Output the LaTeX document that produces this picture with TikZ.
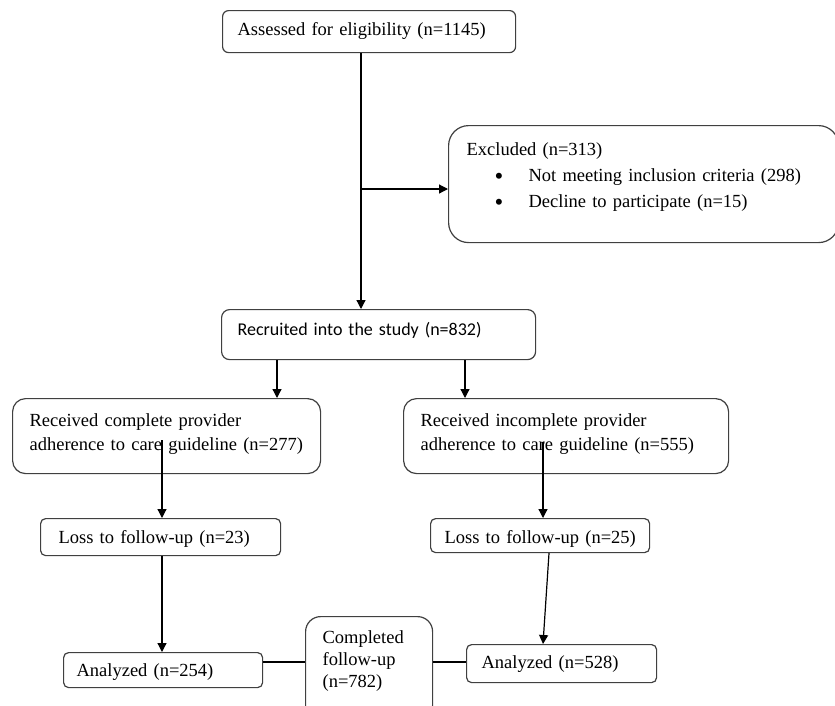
\documentclass[tikz,border=0pt]{standalone}
\usepackage{fontspec}
\setmainfont{Liberation Serif}
\newfontfamily\calibri{Carlito}
\usetikzlibrary{arrows.meta}
\tikzset{>={Triangle[width=9pt,length=9pt]}}
\tikzset{
  box/.style={draw=black!75, line width=1.2pt, anchor=north west, align=left,
    inner ysep=0pt, font=\fontsize{18.5}{24}\selectfont},
  link/.style={line width=1.2pt}
}
\newcommand{\bulletline}[1]{\makebox[62pt][l]{\hspace{28pt}\raisebox{-2.5pt}{\fontsize{25}{24}\selectfont\textbullet}}#1}

\begin{document}
\begin{tikzpicture}[x=1pt, y=-1pt]
    \clip (0,0) rectangle (835,705);

    \node[box, rounded corners=6pt, inner xsep=15pt, text width=263pt,
      text height=25pt, text depth=17pt] (assess) at (222,10)
      {Assessed for eligibility (n=1145)};
    \node[box, rounded corners=20pt, inner xsep=18pt, text width=354pt,
      text height=30pt, text depth=87pt,
      font=\fontsize{18.5}{26}\selectfont] (excl) at (448,125)
      {Excluded (n=313)\\
       \bulletline{Not meeting inclusion criteria (298)}\\
       \bulletline{Decline to participate (n=15)}};
    \node[box, rounded corners=8pt, inner xsep=16pt, text width=282pt,
      text height=26pt, text depth=24pt,
      font=\calibri\fontsize{18}{24}\selectfont] (recruit) at (221,309)
      {Recruited into the study (n=832)};

    \node[box, rounded corners=13pt, inner xsep=17pt, text width=274pt,
      text height=28pt, text depth=47pt] (cmpl) at (12,398)
      {Received complete provider\\ adherence to care guideline (n=277)};
    \node[box, rounded corners=13pt, inner xsep=17pt, text width=291pt,
      text height=28pt, text depth=47pt] (incmpl) at (403,398)
      {Received incomplete provider\\ adherence to care guideline (n=555)};

    \node[box, rounded corners=5pt, inner xsep=18pt, text width=204pt,
      text height=25pt, text depth=12pt] (loss1) at (40,518)
      {Loss to follow-up (n=23)};
    \node[box, rounded corners=5pt, inner xsep=14pt, text width=191pt,
      text height=25pt, text depth=9pt] (loss2) at (430,518)
      {\mbox{Loss to follow-up (n=25)}};

    \node[box, rounded corners=5pt, inner xsep=13pt, text width=173pt,
      text height=24pt, text depth=11pt] (anl1) at (63,652)
      {Analyzed (n=254)};
    \node[box, rounded corners=15pt, inner xsep=17pt, text width=93pt,
      text height=27pt, text depth=77pt,
      font=\fontsize{18.5}{22}\selectfont] (done) at (305,616)
      {Completed\\ follow-up\\ (n=782)};
    \node[box, rounded corners=5pt, inner xsep=15pt, text width=160pt,
      text height=24pt, text depth=14pt] (anl2) at (466,644)
      {Analyzed (n=528)};

    \coordinate (trunk) at (361,189);
    \coordinate (left-x) at (277,0);
    \coordinate (right-x) at (465,0);
    \coordinate (cmpl-out) at (162,440);
    \coordinate (incmpl-out) at (543,442);
    \coordinate (loss2-out) at (549,0);
    \coordinate (joint) at (0,662);

    \draw[link, ->] (assess.south -| trunk) -- (recruit.north -| trunk);
    \draw[link, ->] (trunk) -- (trunk -| excl.west);
    \draw[link, ->] (recruit.south -| left-x) -- (cmpl.north -| left-x);
    \draw[link, ->] (recruit.south -| right-x) -- (incmpl.north -| right-x);
    \draw[link, ->] (cmpl-out) -- (loss1.north -| cmpl-out);
    \draw[link, ->] (incmpl-out) -- (loss2.north -| incmpl-out);
    \draw[link, ->] (loss1.south -| cmpl-out) -- (anl1.north -| cmpl-out);
    \draw[link, ->] (loss2.south -| loss2-out) -- (anl2.north -| incmpl-out);
    \draw[link] (anl1.east |- joint) -- (done.west |- joint);
    \draw[link] (done.east |- joint) -- (anl2.west |- joint);
  \end{tikzpicture}
\end{document}
